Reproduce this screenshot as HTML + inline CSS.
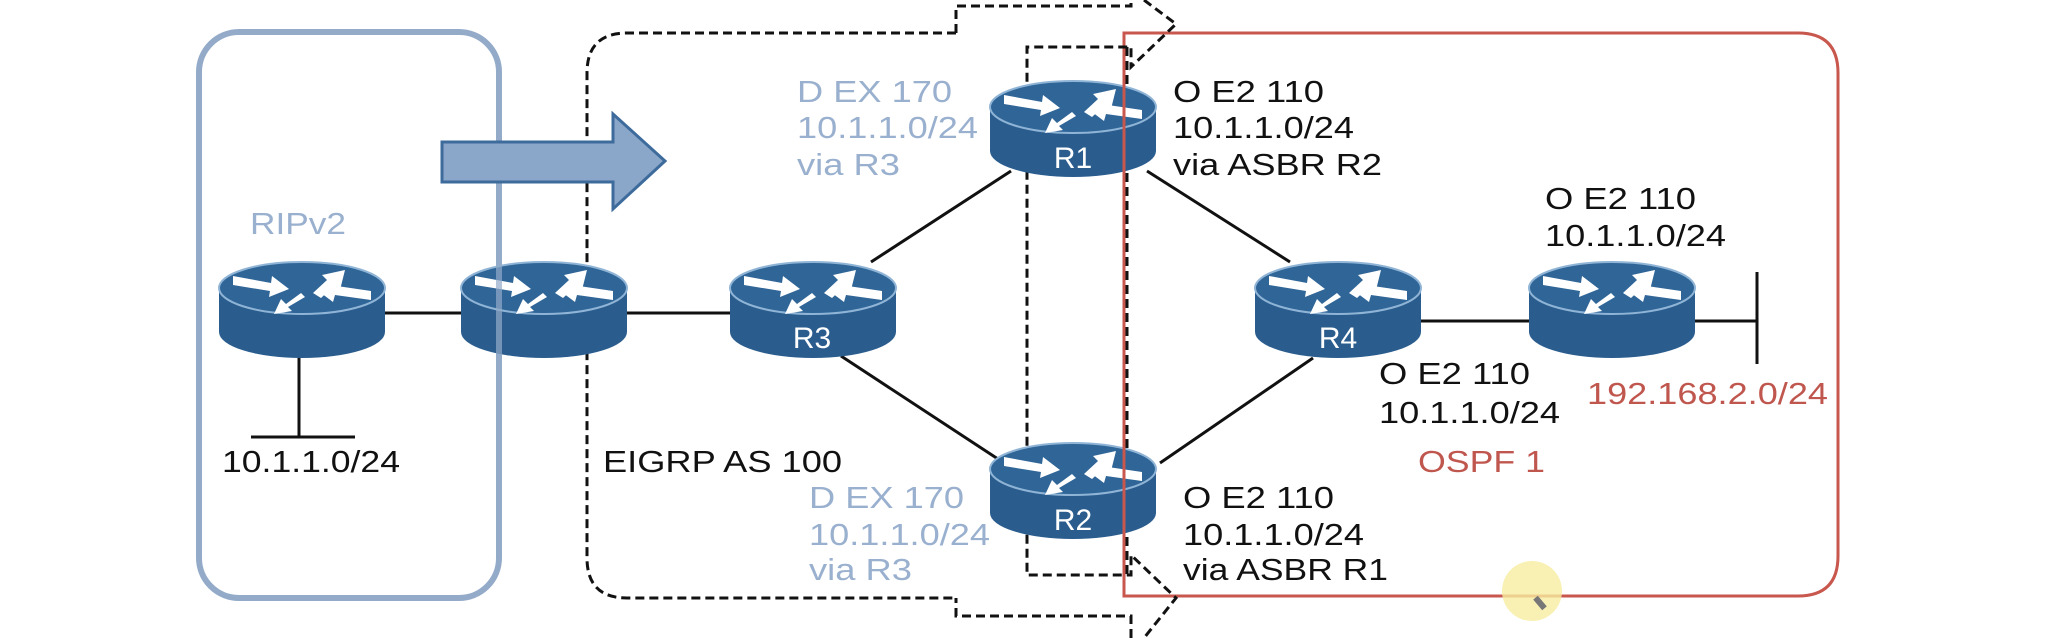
<!DOCTYPE html>
<html><head><meta charset="utf-8"><style>
html,body{margin:0;padding:0;background:#fff;}
svg{display:block;}
text{font-family:"Liberation Sans",sans-serif;}
</style></head><body>
<svg width="2046" height="638" viewBox="0 0 2046 638" xmlns="http://www.w3.org/2000/svg">
<defs>
<g id="rt">
  <ellipse cx="83" cy="70" rx="83" ry="26" fill="#2a5d8e"/>
  <rect x="0" y="26" width="166" height="44" fill="#2a5d8e"/>
  <ellipse cx="83" cy="26" rx="83" ry="26" fill="#2f6597" stroke="#8fb4d6" stroke-width="2"/>
  <g fill="#fff">
    <polygon points="14,14 52,21 53,14 70,27 50,35 51,29 14,23"/>
    <polygon points="94,31 108,18 103,13 126,8 121,28 116,23 102,36"/>
    <polygon points="152,29 118,24 120,17 98,28 114,40 116,33 152,38"/>
    <polygon points="82,31 67,42 62,37 55,52 73,49 69,45 86,35"/>
  </g>
</g>
</defs>

<rect x="199" y="32" width="300" height="566" rx="40" fill="none" stroke="#93abc9" stroke-width="6"/>

<path d="M1124,33 L1798,33 Q1838,33 1838,73 L1838,556 Q1838,596 1798,596 L1124,596 Z" fill="none" stroke="#c8574d" stroke-width="3"/>

<g fill="none" stroke="#111" stroke-width="3" stroke-dasharray="9,5">
  <path d="M956,33 L627,33 Q587,33 587,73 L587,558 Q587,598 627,598 L956,598"/>
  <path d="M956,33 L956,6 L1131,6 L1131,0 M1144,0 L1176,24 L1131,67 L1131,47 L1027,47 L1027,575 L1131,575 L1131,555 L1176,598 L1144,638 M1131,638 L1131,616 L956,616 L956,598"/>
  <path d="M1127,47 L1127,575"/>
</g>

<polygon points="442,142 613,142 613,114 665,161 613,209 613,182 442,182" fill="#8aa6c8" stroke="#3d6b9c" stroke-width="3"/>

<g stroke="#111" stroke-width="3">
  <line x1="385" y1="313" x2="462" y2="313"/>
  <line x1="626" y1="313" x2="730" y2="313"/>
  <line x1="299" y1="356" x2="299" y2="437"/>
  <line x1="251" y1="437" x2="355" y2="437"/>
  <line x1="871" y1="262" x2="1011" y2="171"/>
  <line x1="841" y1="356" x2="998" y2="459"/>
  <line x1="1147" y1="171" x2="1290" y2="262"/>
  <line x1="1160" y1="463" x2="1313" y2="358"/>
  <line x1="1420" y1="321" x2="1530" y2="321"/>
  <line x1="1695" y1="321" x2="1757" y2="321"/>
  <line x1="1757" y1="272" x2="1757" y2="364"/>
</g>

<use href="#rt" x="219" y="262"/>
<use href="#rt" x="461" y="262"/>
<use href="#rt" x="730" y="262"/>
<use href="#rt" x="990" y="81"/>
<use href="#rt" x="990" y="443"/>
<use href="#rt" x="1255" y="262"/>
<use href="#rt" x="1529" y="262"/>

<line x1="499" y1="262" x2="499" y2="358" stroke="#93abc9" stroke-width="6" opacity="0.7"/>
<line x1="1124" y1="81" x2="1124" y2="181" stroke="#c8574d" stroke-width="3"/>
<line x1="1124" y1="443" x2="1124" y2="543" stroke="#c8574d" stroke-width="3"/>

<g fill="#fff" font-size="30" text-anchor="middle">
  <text x="812" y="348">R3</text>
  <text x="1073" y="168">R1</text>
  <text x="1073" y="530">R2</text>
  <text x="1338" y="348">R4</text>
</g>

<g font-size="31">
  <text x="250" y="234" fill="#9ab0cf" textLength="96" lengthAdjust="spacingAndGlyphs">RIPv2</text>
  <text x="222" y="472" fill="#111" textLength="178" lengthAdjust="spacingAndGlyphs">10.1.1.0/24</text>
  <text x="603" y="472" fill="#111" textLength="239" lengthAdjust="spacingAndGlyphs">EIGRP AS 100</text>

  <text x="797" y="102" fill="#9ab0cf" textLength="155" lengthAdjust="spacingAndGlyphs">D EX 170</text>
  <text x="797" y="138" fill="#9ab0cf" textLength="181" lengthAdjust="spacingAndGlyphs">10.1.1.0/24</text>
  <text x="797" y="175" fill="#9ab0cf" textLength="103" lengthAdjust="spacingAndGlyphs">via R3</text>

  <text x="809" y="508" fill="#9ab0cf" textLength="155" lengthAdjust="spacingAndGlyphs">D EX 170</text>
  <text x="809" y="545" fill="#9ab0cf" textLength="181" lengthAdjust="spacingAndGlyphs">10.1.1.0/24</text>
  <text x="809" y="580" fill="#9ab0cf" textLength="103" lengthAdjust="spacingAndGlyphs">via R3</text>

  <text x="1173" y="102" fill="#111" textLength="151" lengthAdjust="spacingAndGlyphs">O E2 110</text>
  <text x="1173" y="138" fill="#111" textLength="181" lengthAdjust="spacingAndGlyphs">10.1.1.0/24</text>
  <text x="1173" y="175" fill="#111" textLength="209" lengthAdjust="spacingAndGlyphs">via ASBR R2</text>

  <text x="1183" y="508" fill="#111" textLength="151" lengthAdjust="spacingAndGlyphs">O E2 110</text>
  <text x="1183" y="545" fill="#111" textLength="181" lengthAdjust="spacingAndGlyphs">10.1.1.0/24</text>
  <text x="1183" y="580" fill="#111" textLength="205" lengthAdjust="spacingAndGlyphs">via ASBR R1</text>

  <text x="1545" y="209" fill="#111" textLength="151" lengthAdjust="spacingAndGlyphs">O E2 110</text>
  <text x="1545" y="246" fill="#111" textLength="181" lengthAdjust="spacingAndGlyphs">10.1.1.0/24</text>

  <text x="1379" y="384" fill="#111" textLength="151" lengthAdjust="spacingAndGlyphs">O E2 110</text>
  <text x="1379" y="423" fill="#111" textLength="181" lengthAdjust="spacingAndGlyphs">10.1.1.0/24</text>

  <text x="1587" y="404" fill="#c0574e" textLength="241" lengthAdjust="spacingAndGlyphs">192.168.2.0/24</text>
  <text x="1418" y="472" fill="#c0574e" textLength="127" lengthAdjust="spacingAndGlyphs">OSPF 1</text>
</g>

<ellipse cx="1532" cy="591" rx="30" ry="30" fill="#f8eea0" opacity="0.8"/>
<rect x="1537" y="596" width="6" height="14" fill="#777" transform="rotate(-40 1540 603)"/>
</svg>
</body></html>
